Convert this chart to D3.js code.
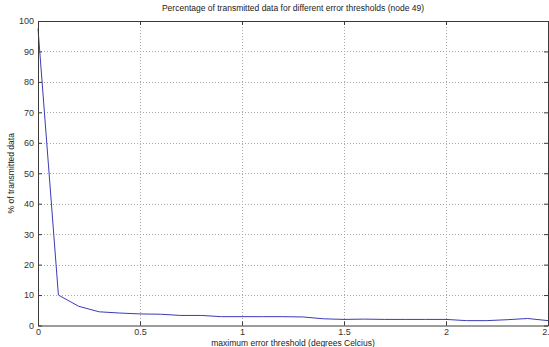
<!DOCTYPE html>
<html>
<head>
<meta charset="utf-8">
<script src="https://cdn.jsdelivr.net/npm/d3@7"></script>
<style>
  body { margin: 0; background: #fff; }
  svg { display: block; font-family: "Liberation Sans", Arial, sans-serif; }
</style>
</head>
<body>
<script>
var width = 549;
var height = 347;

// x values: error threshold, step 0.1
var thresholds = [0, 0.1, 0.2, 0.3, 0.4, 0.5, 0.6, 0.7, 0.8, 0.9, 1.0, 1.1, 1.2,
                  1.3, 1.4, 1.5, 1.6, 1.7, 1.8, 1.9, 2.0, 2.1, 2.2, 2.3, 2.4, 2.5];
// percentage of transmitted data
var percent = [97.5, 10, 6.3, 4.5, 4.1, 3.8, 3.7, 3.3, 3.3, 2.9, 2.9, 2.9, 2.9,
               2.8, 2.2, 2.0, 2.1, 2.0, 2.0, 2.0, 2.0, 1.6, 1.6, 1.9, 2.3, 1.6];
var xTicks = [0, 0.5, 1, 1.5, 2, 2.5];
var yTicks = [0, 10, 20, 30, 40, 50, 60, 70, 80, 90, 100];

// plot box (note: "top" is reserved on window, so use pad* names)
var padLeft = 38, padRight = 548, padTop = 21, padBottom = 325.5;

var svg = d3.select("body").append("svg")
    .attr("width", width)
    .attr("height", height);

var x = d3.scaleLinear().domain([0, 2.5]).range([padLeft, padRight]);
var y = d3.scaleLinear().domain([0, 100]).range([padBottom, padTop]);

// grid
var grid = svg.append("g")
    .attr("stroke", "#a8a8a8")
    .attr("stroke-width", 1)
    .attr("stroke-dasharray", "1,2");
grid.selectAll("line.gx").data(xTicks.slice(1, -1)).enter().append("line")
    .attr("x1", d => Math.round(x(d)) + 0.5).attr("x2", d => Math.round(x(d)) + 0.5)
    .attr("y1", padTop).attr("y2", padBottom);
grid.selectAll("line.gy").data(yTicks.slice(1, -1)).enter().append("line")
    .attr("y1", d => Math.round(y(d)) + 0.5).attr("y2", d => Math.round(y(d)) + 0.5)
    .attr("x1", padLeft).attr("x2", padRight);

// data line
var line = d3.line()
    .x((d, i) => x(thresholds[i]))
    .y(d => y(d));
svg.append("path")
    .datum(percent)
    .attr("d", line)
    .attr("fill", "none")
    .attr("stroke", "#3b3bb8")
    .attr("stroke-width", 1);

// axes (MATLAB style: inward ticks on all four sides)
var tl = -4;
svg.append("g").attr("transform", "translate(0," + padBottom + ")")
    .call(d3.axisBottom(x).tickValues(xTicks).tickSizeInner(tl).tickSizeOuter(0).tickPadding(3).tickFormat(d3.format("")));
svg.append("g").attr("transform", "translate(0," + padTop + ")")
    .call(d3.axisTop(x).tickValues(xTicks).tickSizeInner(tl).tickSizeOuter(0).tickFormat(""));
svg.append("g").attr("transform", "translate(" + padLeft + ",0)")
    .call(d3.axisLeft(y).tickValues(yTicks).tickSizeInner(tl).tickSizeOuter(0).tickPadding(4));
svg.append("g").attr("transform", "translate(" + padRight + ",0)")
    .call(d3.axisRight(y).tickValues(yTicks).tickSizeInner(tl).tickSizeOuter(0).tickFormat(""));

svg.selectAll(".domain, .tick line").attr("stroke", "#3a3a3a");
svg.selectAll(".tick text").attr("fill", "#333").attr("font-size", 9)
    .attr("font-family", "'Liberation Sans', Arial, sans-serif");

// titles
svg.append("text")
    .attr("x", (padLeft + padRight) / 2).attr("y", 11)
    .attr("text-anchor", "middle")
    .attr("font-size", 8.5).attr("fill", "#222")
    .text("Percentage of transmitted data for different error thresholds (node 49)");
svg.append("text")
    .attr("x", (padLeft + padRight) / 2).attr("y", 346)
    .attr("text-anchor", "middle")
    .attr("font-size", 8.5).attr("fill", "#222")
    .text("maximum error threshold (degrees Celcius)");
svg.append("text")
    .attr("transform", "translate(14," + (padTop + padBottom) / 2 + ") rotate(-90)")
    .attr("text-anchor", "middle")
    .attr("font-size", 8.5).attr("fill", "#222")
    .text("% of transmitted data");
</script>
</body>
</html>
